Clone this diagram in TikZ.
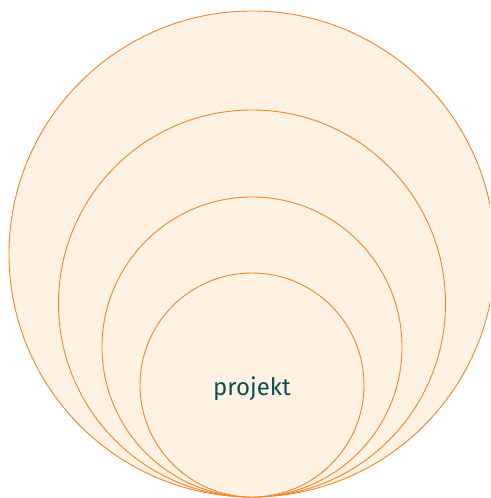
\documentclass[tikz,border=0pt]{standalone}
\usepackage{fontspec}
\setsansfont{Fira Sans}
\definecolor{ringline}{HTML}{F5852A}
\definecolor{ringfill}{HTML}{FFF2E3}
\definecolor{labeltext}{HTML}{0E4F55}

\begin{document}
\begin{tikzpicture}[x=1pt, y=1pt]
    \tikzset{
        ring/.style={
            circle, draw=ringline, fill=ringfill, line width=0.9pt,
            inner sep=0pt, outer sep=0pt, anchor=south,
            minimum size=#1,
        },
    }

    \useasboundingbox (0,0) rectangle (490,498);
    \clip (0,0) rectangle (490,498);

    % Circles, all touching at the bottom
    \coordinate (base) at (252,1);
    \node[ring=486pt] (outer) at (base) {};
    \node[ring=387pt] (second) at (base) {};
    \node[ring=300pt] (third) at (base) {};
    \node[ring=224pt] (inner) at (base) {};

    % Label
    \node[font=\sffamily\fontsize{24}{28}\selectfont, text=labeltext] (label) at (252,109) {projekt};
\end{tikzpicture}
\end{document}
